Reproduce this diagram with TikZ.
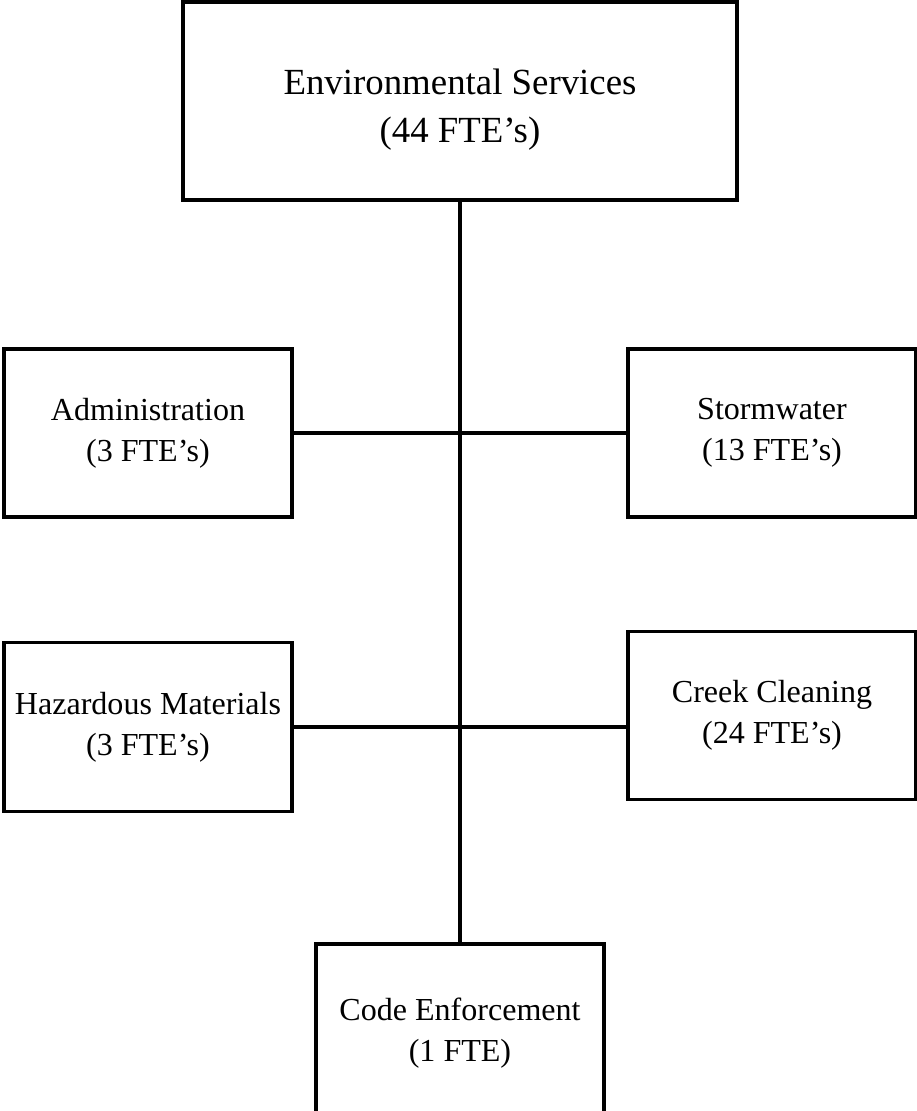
\documentclass[tikz,border=0pt]{standalone}
\usepackage{fontspec}
\setmainfont{Liberation Serif}
\usetikzlibrary{positioning}

\newcommand{\headfont}{\fontsize{26.2}{34.5}\selectfont}
\newcommand{\unitfont}{\fontsize{22.8}{29.4}\selectfont}

\begin{document}
\begin{tikzpicture}[node distance=8.3cm, font=\unitfont,
        unit/.style={draw, line width=2.5pt, align=center, minimum width=7.2cm, minimum height=4.2cm},
        link/.style={line width=2.5pt}]
            \useasboundingbox (0,0) rectangle (22.925,-27.775);

            % Department head
            \node[unit, minimum width=13.85cm, minimum height=4.95cm] (env) at (11.5,-2.525) {};
            \node[font=\headfont, align=center] (envtitle) at ([yshift=-0.22cm]env.center) {Environmental Services\\(44 FTE’s)};

            % First row of divisions
            \node[unit, below of=env, xshift=-7.8cm] (admin) {Administration\\(3 FTE’s)};
            \node[unit, below of=env, xshift=7.8cm] (storm) {Stormwater\\(13 FTE’s)};

            % Second row of divisions
            \node[unit, below of=admin, node distance=7.35cm, minimum height=4.22cm] (hazmat) {Hazardous Materials\\(3 FTE’s)};
            \node[unit, below of=storm, node distance=7.06cm] (creek) {Creek Cleaning\\(24 FTE’s)};

            % Bottom division
            \node[unit, below of=env, node distance=23.3cm, minimum height=4.45cm] (code) {Code Enforcement\\(1 FTE)};

            % Connections
            \draw[link] (env) -- (code);
            \draw[link] (admin) -- (storm);
            \draw[link] (hazmat.east) -- (hazmat.east -| creek.west);
        \end{tikzpicture}
\end{document}
